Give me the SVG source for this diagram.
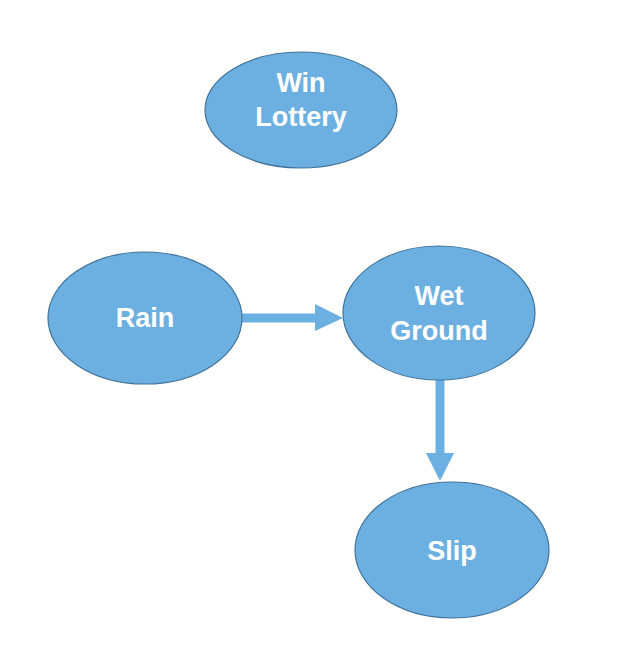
<svg xmlns="http://www.w3.org/2000/svg" width="620" height="652" viewBox="0 0 620 652">
<style>
.node ellipse{fill:#6cb0e2;stroke:#41739a;stroke-width:1.2}
.node text{fill:#ffffff;font-family:"Liberation Sans",Arial,sans-serif;font-weight:bold;font-size:27px;text-anchor:middle}
.edge{stroke:#6cb0e2;stroke-width:9;fill:none}
.head{fill:#6cb0e2}
</style>
<rect width="620" height="652" fill="#ffffff"/>
<g id="connectors">
<line class="edge" x1="242" y1="318" x2="318" y2="318"/>
<polygon class="head" points="315,304 343,318 315,331"/>
<line class="edge" x1="440" y1="379" x2="440" y2="456"/>
<polygon class="head" points="426,453 440,481 454,453"/>
</g>
<g id="win-lottery" class="node">
<ellipse cx="301" cy="110" rx="96" ry="58"/>
<text x="301" y="92">Win</text>
<text x="301" y="126">Lottery</text>
</g>
<g id="rain" class="node">
<ellipse cx="145" cy="318" rx="97" ry="66"/>
<text x="145" y="327">Rain</text>
</g>
<g id="wet-ground" class="node">
<ellipse cx="439" cy="313" rx="96" ry="67"/>
<text x="439" y="305">Wet</text>
<text x="439" y="340">Ground</text>
</g>
<g id="slip" class="node">
<ellipse cx="452" cy="550" rx="97" ry="68"/>
<text x="452" y="560">Slip</text>
</g>
</svg>
